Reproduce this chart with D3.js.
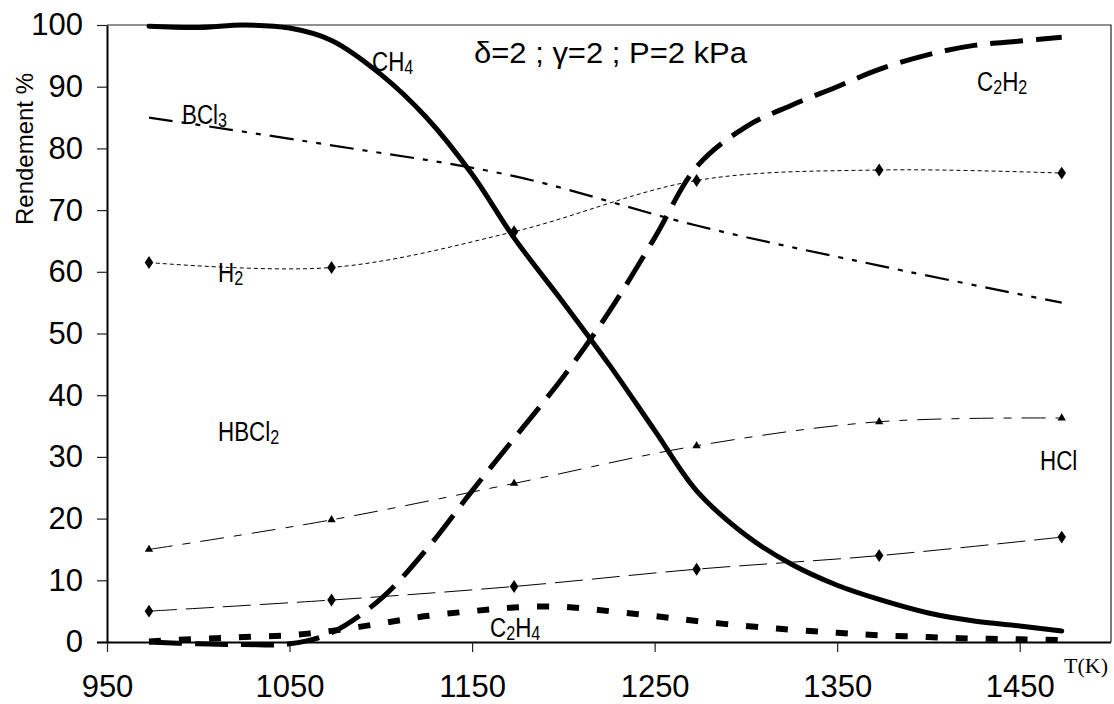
<!DOCTYPE html>
<html><head><meta charset="utf-8">
<script src="https://cdn.jsdelivr.net/npm/d3@7"></script>
<style>body{margin:0;background:#fff}svg{display:block}</style>
</head><body><svg id="c" width="1114" height="704"></svg>
<script>
// ---- data ----
const tempsMarked = [973, 1073, 1173, 1273, 1373, 1473];
const h2Values    = [61.5, 60.7, 66.5, 74.8, 76.5, 76.0];
const hclValues   = [5.0, 6.8, 9.0, 11.8, 14.0, 17.0];
const hbcl2Values = [15.0, 19.8, 25.7, 31.8, 35.7, 36.3];
const bcl3Values  = [85.0, 80.5, 75.5, 67.5, 61.0, 55.0];

const tempsFine   = [973, 1000, 1025, 1050, 1073, 1100, 1125, 1150, 1173, 1200, 1225, 1250, 1273, 1300, 1325, 1350, 1373, 1400, 1425, 1450, 1473];
const ch4Values   = [99.8, 99.6, 100, 99.5, 97.5, 92.0, 85.0, 75.8, 65.5, 55.0, 45.0, 34.3, 24.5, 17.3, 12.6, 9.2, 6.9, 4.7, 3.4, 2.6, 1.8];
const c2h2Values  = [0.0, -0.3, -0.4, -0.3, 1.5, 7.0, 15.0, 24.5, 33.0, 43.0, 53.5, 65.5, 77.0, 83.5, 87.0, 90.0, 92.8, 95.2, 96.7, 97.4, 98.0];
const c2h4Values  = [0.1, 0.5, 0.8, 1.1, 1.8, 3.0, 4.2, 5.0, 5.6, 5.7, 5.0, 4.2, 3.4, 2.6, 2.0, 1.5, 1.1, 0.8, 0.55, 0.45, 0.3];

const xTickValues = [950, 1050, 1150, 1250, 1350, 1450];
const yTickValues = [0, 10, 20, 30, 40, 50, 60, 70, 80, 90, 100];

// ---- layout ----
const W = 1114, H = 704;
const m = {l: 107, r: 3, t: 25, b: 62};
const svg = d3.select('#c');
const x = d3.scaleLinear().domain([950, 1500]).range([m.l, W - m.r]);
const y = d3.scaleLinear().domain([0, 100]).range([H - m.b, m.t]);
const FONT = '"Liberation Sans", Arial, sans-serif';

// frame (top and right)
svg.append('path')
  .attr('d', `M${m.l},${m.t}H${W - m.r}V${H - m.b}`)
  .attr('fill', 'none').attr('stroke', '#222').attr('stroke-width', 1.2);

// axes
const gy = svg.append('g').attr('transform', `translate(${m.l},0)`)
  .call(d3.axisLeft(y).tickValues(yTickValues).tickFormat(d3.format('d')).tickSize(10).tickPadding(14).tickSizeOuter(0));
const gx = svg.append('g').attr('transform', `translate(0,${H - m.b})`)
  .call(d3.axisBottom(x).tickValues(xTickValues).tickFormat(d3.format('d')).tickSize(10).tickPadding(23).tickSizeOuter(0));
[gx, gy].forEach(g => {
  g.selectAll('text').attr('font-family', FONT).attr('font-size', 31).attr('fill', '#000');
  g.selectAll('line').attr('stroke', '#222').attr('stroke-width', 1.2);
  g.select('.domain').attr('stroke', '#000').attr('stroke-width', 2);
});
gx.select('.domain').attr('d', `M${m.l - 10},0.5H${W - m.r}`);

// series
function series(xs, ys) { return xs.map((t, i) => [t, ys[i]]); }
const line = d3.line().x(d => x(d[0])).y(d => y(d[1])).curve(d3.curveCatmullRom.alpha(0.5));

const lines = [
  {data: series(tempsMarked, h2Values),    w: 1,   dash: '4,3'},
  {data: series(tempsMarked, hclValues),   w: 1,   dash: '28,9'},
  {data: series(tempsMarked, hbcl2Values), w: 1,   dash: '24,10,8,10'},
  {data: series(tempsMarked, bcl3Values),  w: 2.2, dash: '24,9,5,9,5,9'},
  {data: series(tempsFine, ch4Values),     w: 5,   dash: null},
  {data: series(tempsFine, c2h2Values),    w: 5,   dash: '33,13'},
  {data: series(tempsFine, c2h4Values),    w: 6,   dash: '12,18'},
];
lines.forEach(s => {
  svg.append('path').datum(s.data)
    .attr('d', line).attr('fill', 'none').attr('stroke', '#000')
    .attr('stroke-width', s.w).attr('stroke-linecap', s.dash ? 'butt' : 'round')
    .attr('stroke-dasharray', s.dash);
});

// markers
const diamond = d3.symbol().type(d3.symbolDiamond).size(48);
const tri = d3.symbol().type(d3.symbolTriangle).size(30);
[h2Values, hclValues].forEach(vals => {
  svg.append('g').selectAll('path').data(series(tempsMarked, vals)).join('path')
    .attr('d', diamond).attr('transform', d => `translate(${x(d[0])},${y(d[1])}) scale(1.15,1)`).attr('fill', '#000');
});
svg.append('g').selectAll('path').data(series(tempsMarked, hbcl2Values)).join('path')
  .attr('d', tri).attr('transform', d => `translate(${x(d[0])},${y(d[1])})`).attr('fill', '#000');

// labels: parts = [text, subscript, text, subscript, ...]
function label(px, py, parts, size) {
  const t = svg.append('text').attr('font-family', FONT).attr('font-size', size || 28)
    .attr('transform', `translate(${px},${py}) scale(0.8,1)`);
  let shifted = false;
  parts.forEach((p, i) => {
    const isSub = i % 2 === 1;
    const ts = t.append('tspan').text(p);
    if (isSub) { ts.attr('font-size', '72%').attr('dy', 3); shifted = true; }
    else if (shifted) { ts.attr('dy', -3); shifted = false; }
  });
  return t;
}
label(372, 71, ['CH', '4']);
label(977, 91, ['C', '2', 'H', '2']);
label(490, 637, ['C', '2', 'H', '4']);
label(182, 124, ['BCl', '3']);
label(218, 282, ['H', '2']);
label(218, 441, ['HBCl', '2']);
label(1040, 470, ['HCl']);

svg.append('text').attr('x', 474).attr('y', 63).attr('font-family', FONT).attr('font-size', 29)
  .attr('textLength', 273).attr('lengthAdjust', 'spacingAndGlyphs')
  .text('δ=2 ; γ=2 ; P=2 kPa');

svg.append('text').attr('x', 1108).attr('y', 673).attr('text-anchor', 'end')
  .attr('font-family', '"Liberation Serif", "Times New Roman", serif').attr('font-size', 22).text('T(K)');

svg.append('text').attr('transform', 'translate(33,149) rotate(-90)').attr('text-anchor', 'middle')
  .attr('font-family', FONT).attr('font-size', 24).text('Rendement %');
</script></body></html>
